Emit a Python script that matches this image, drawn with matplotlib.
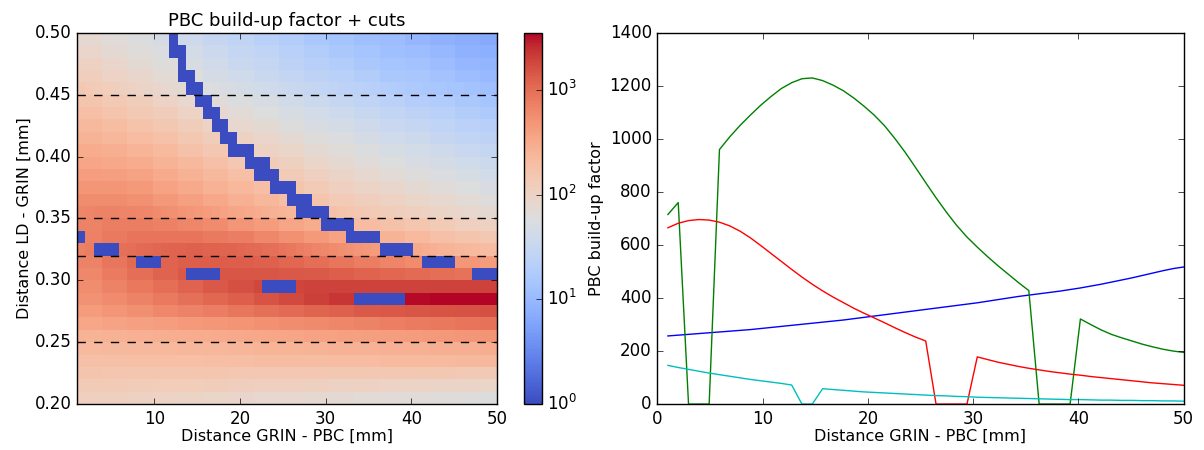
import numpy as np
import matplotlib.pyplot as plt
from matplotlib.colors import LogNorm

plt.style.use('classic')

# distance GRIN - PBC [mm], one sample per map column
dist = np.linspace(1, 50, 51)
# lower edge of each map row, distance LD - GRIN [mm]
row_y = [round(0.20 + 0.01 * i, 2) for i in range(30)]

# build-up factor along the four horizontal cuts
cut_025 = [257, 260, 263, 266, 269, 272, 275, 278, 281, 285, 289, 293, 297, 301, 305, 309, 313,
           317, 322, 327, 332, 337, 342, 347, 352, 357, 362, 367, 372, 377, 382, 388, 394, 400,
           406, 411, 416, 421, 426, 432, 438, 445, 452, 460, 468, 476, 485, 494, 503, 511, 517]
cut_032 = [715, 760, 0, 0, 0, 960, 1008, 1051, 1090, 1127, 1160, 1190, 1212, 1227, 1230, 1220,
           1203, 1182, 1155, 1124, 1090, 1050, 1002, 950, 893, 835, 778, 724, 674, 630, 592, 556,
           522, 490, 458, 428, 0, 0, 0, 0, 321, 300, 280, 263, 250, 238, 226, 216, 207, 200, 195]
cut_035 = [665, 682, 692, 696, 694, 686, 672, 652, 627, 598, 568, 538, 508, 479, 452, 427, 404,
           383, 362, 343, 325, 307, 288, 270, 253, 238, 0, 0, 0, 0, 178, 168, 158, 150, 142, 135,
           129, 123, 118, 113, 109, 104, 100, 96, 92, 88, 84, 80, 77, 74, 71]
cut_045 = [146, 138, 131, 124, 117, 111, 105, 99, 93, 88, 83, 78, 72, 0, 0, 58, 55, 52, 49, 46,
           44, 42, 40, 38, 36, 34, 32, 31, 29, 28, 26, 25, 24, 23, 22, 21, 20, 19, 18, 17, 17,
           16, 15, 15, 14, 14, 13, 13, 12, 12, 11]
cuts = {0.25: (cut_025, 'b'), 0.32: (cut_032, 'g'), 0.35: (cut_035, 'r'), 0.45: (cut_045, 'c')}

# remaining map rows, one value per group of three columns
heat_rows = {
    0.20: [115, 110, 105, 100, 96, 92, 88, 84, 80, 77, 74, 71, 68, 66, 64, 62, 60],
    0.21: [135, 132, 130, 127, 124, 121, 118, 115, 112, 109, 106, 103, 100, 97, 95, 93, 91],
    0.22: [160, 158, 157, 156, 155, 154, 153, 152, 151, 150, 149, 148, 147, 146, 145, 144, 143],
    0.23: [185, 185, 188, 190, 192, 195, 197, 200, 202, 205, 207, 210, 212, 215, 217, 220, 222],
    0.24: [215, 220, 225, 230, 235, 240, 245, 250, 255, 260, 265, 270, 275, 280, 285, 290, 295],
    0.26: [350, 370, 400, 420, 450, 480, 510, 540, 580, 620, 660, 700, 740, 790, 840, 890, 930],
    0.27: [440, 500, 560, 630, 700, 780, 870, 960, 1050, 1150, 1250, 1350, 1400, 1450, 1500, 1550, 1600],
    0.28: [520, 600, 700, 820, 960, 1120, 1300, 1500, 1750, 2000, 2300, 2600, 2900, 3300, 3500, 3500, 3500],
    0.29: [580, 700, 850, 1000, 1200, 1400, 1600, 1800, 1900, 1950, 1950, 1950, 1950, 1950, 1950, 1950, 1950],
    0.30: [640, 800, 1000, 1200, 1400, 1450, 1480, 1470, 1420, 1350, 1280, 1200, 1120, 1050, 980, 920, 870],
    0.31: [700, 880, 1080, 1200, 1300, 1320, 1300, 1230, 1120, 1000, 880, 780, 680, 600, 540, 480, 430],
    0.33: [724, 813, 891, 912, 891, 832, 758, 646, 537, 447, 380, 309, 263, 214, 186, 162, 145],
    0.34: [708, 758, 758, 724, 660, 590, 500, 427, 363, 302, 251, 209, 178, 155, 135, 115, 102],
    0.36: [582, 581, 536, 459, 393, 333, 280, 234, 196, 165, 139, 118, 102, 90, 80, 70, 62],
    0.37: [496, 485, 444, 380, 324, 272, 229, 193, 161, 136, 115, 98, 85, 75, 66, 58, 51],
    0.38: [423, 406, 368, 314, 266, 223, 188, 158, 133, 112, 95, 81, 70, 62, 55, 48, 43],
    0.39: [360, 340, 305, 260, 219, 182, 153, 130, 109, 92, 78, 67, 58, 52, 46, 40, 36],
    0.40: [307, 284, 253, 215, 180, 150, 126, 107, 90, 76, 65, 56, 48, 43, 38, 33, 30],
    0.41: [262, 238, 210, 177, 148, 122, 103, 88, 74, 63, 54, 46, 40, 36, 31, 27, 25],
    0.42: [223, 200, 174, 147, 122, 100, 84, 72, 61, 52, 44, 38, 33, 30, 26, 23, 21],
    0.43: [190, 167, 144, 121, 100, 82, 69, 59, 50, 43, 37, 32, 28, 25, 22, 19, 17],
    0.44: [162, 140, 120, 100, 83, 67, 56, 49, 41, 35, 30, 26, 23, 20, 18, 16, 14],
    0.46: [119, 101, 85, 71, 59, 47, 40, 34, 29, 25, 22, 19, 16, 15, 13, 11, 10],
    0.47: [102, 87, 73, 62, 50, 41, 34, 30, 25, 21, 19, 16, 14, 13, 11, 9.6, 8.9],
    0.48: [89, 76, 64, 54, 44, 35, 30, 26, 22, 19, 16, 14, 12, 11, 9.7, 8.4, 7.7],
    0.49: [78, 66, 56, 47, 38, 31, 26, 22, 19, 16, 14, 12, 11, 9.5, 8.4, 7.3, 6.7],
}

# cells with no build-up: (row, first column, last column)
zero_cells = [
    (0.49, 11, 11), (0.48, 11, 12), (0.47, 12, 12), (0.46, 12, 13), (0.44, 14, 15),
    (0.43, 15, 16), (0.42, 16, 17), (0.41, 17, 18), (0.40, 18, 20), (0.39, 20, 22),
    (0.38, 21, 23), (0.37, 23, 25), (0.36, 25, 27), (0.34, 29, 32), (0.33, 32, 35),
    (0.31, 41, 44), (0.30, 47, 50),
    (0.33, 0, 0), (0.31, 7, 9), (0.30, 13, 16), (0.29, 22, 25), (0.28, 33, 38),
]

# assemble the map
buildup = np.zeros((len(row_y), len(dist)))
for i, y in enumerate(row_y):
    if y in cuts:
        buildup[i] = cuts[y][0]
    else:
        buildup[i] = np.repeat(heat_rows[y], 3)
for y, k0, k1 in zero_cells:
    buildup[row_y.index(y), k0:k1 + 1] = 0

step = dist[1] - dist[0]
x_edges = np.append(dist, dist[-1] + step)
y_edges = np.append(row_y, row_y[-1] + 0.01)

cmap = plt.get_cmap('coolwarm').copy()
cmap.set_bad(cmap(0.0))

fig = plt.figure(figsize=(12.04, 4.5), dpi=100, facecolor='white')
ax1 = fig.add_axes([0.064, 0.102, 0.349, 0.825])
cax = fig.add_axes([0.435, 0.102, 0.015, 0.825])
ax2 = fig.add_axes([0.546, 0.102, 0.437, 0.825])

mesh = ax1.pcolormesh(x_edges, y_edges, np.ma.masked_less_equal(buildup, 0),
                      cmap=cmap, norm=LogNorm(vmin=1, vmax=3500), antialiased=False)
for y in cuts:
    ax1.axhline(y, color='k', linestyle='--', linewidth=1)
ax1.set_xlim(1, 50)
ax1.set_ylim(0.20, 0.50)
ax1.set_xticks([10, 20, 30, 40, 50])
ax1.set_yticks(np.arange(0.20, 0.51, 0.05))
ax1.set_title('PBC build-up factor + cuts', fontsize=13, pad=5)
ax1.set_xlabel('Distance GRIN - PBC [mm]', fontsize=11.5, labelpad=1)
ax1.set_ylabel('Distance LD - GRIN [mm]', fontsize=11.5, labelpad=2)

cb = fig.colorbar(mesh, cax=cax, ticks=[1, 10, 100, 1000])
cb.ax.minorticks_off()

for y, (vals, col) in cuts.items():
    ax2.plot(dist, vals, color=col, linewidth=1)
ax2.set_xlim(0, 50)
ax2.set_ylim(0, 1400)
ax2.set_xlabel('Distance GRIN - PBC [mm]', fontsize=11.5, labelpad=1)
ax2.set_ylabel('PBC build-up factor', fontsize=11.5, labelpad=4)

for ax in (ax1, ax2, cb.ax):
    ax.tick_params(labelsize=12, pad=4)

fig.savefig('out.png', dpi=100, facecolor='white')
